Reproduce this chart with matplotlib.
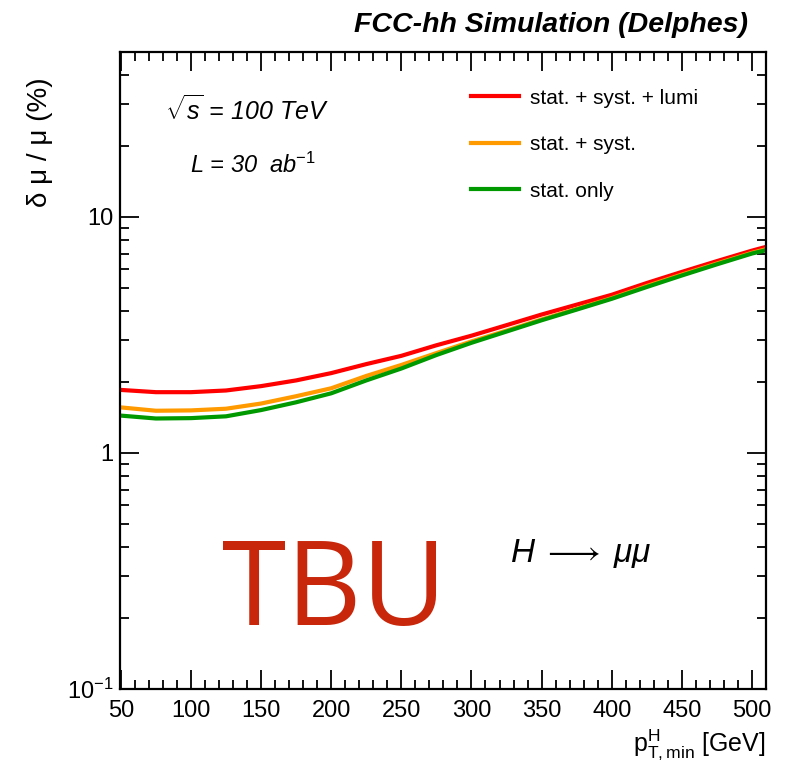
import matplotlib
matplotlib.use("Agg")
import matplotlib.pyplot as plt
from matplotlib.ticker import FixedLocator, MultipleLocator, LogLocator, NullFormatter, FuncFormatter

plt.rcParams['font.family'] = ['Liberation Sans', 'DejaVu Sans']
plt.rcParams['mathtext.fontset'] = 'custom'
plt.rcParams['mathtext.rm'] = 'Liberation Sans'
plt.rcParams['mathtext.it'] = 'Liberation Sans:italic'
plt.rcParams['mathtext.bf'] = 'Liberation Sans:bold'

# data
pt_min = [50, 75, 100, 125, 150, 175, 200, 225, 250, 275, 300, 325, 350, 375,
          400, 425, 450, 475, 500, 510]
err_full = [1.85, 1.81, 1.81, 1.84, 1.92, 2.03, 2.18, 2.38, 2.58, 2.86, 3.14, 3.48,
            3.86, 4.25, 4.68, 5.25, 5.85, 6.5, 7.2, 7.47]
err_syst = [1.56, 1.51, 1.515, 1.54, 1.62, 1.74, 1.88, 2.12, 2.36, 2.65, 2.97, 3.30,
            3.68, 4.08, 4.53, 5.1, 5.7, 6.35, 7.05, 7.3]
err_stat = [1.44, 1.40, 1.405, 1.43, 1.52, 1.64, 1.79, 2.03, 2.28, 2.6, 2.93, 3.27,
            3.65, 4.05, 4.5, 5.05, 5.65, 6.3, 7.0, 7.23]
labels = ["stat. + syst. + lumi", "stat. + syst.", "stat. only"]
colors = ["#FF0000", "#FF9A00", "#009A00"]
x_ticks = [50, 100, 150, 200, 250, 300, 350, 400, 450, 500]

W, H = 801, 767
fig = plt.figure(figsize=(W / 100, H / 100), dpi=100)
ax = fig.add_axes([120 / W, (H - 689) / H, (766 - 120) / W, (689 - 52) / H])

for y, c, lab in zip([err_full, err_syst, err_stat], colors, labels):
    ax.plot(pt_min, y, color=c, lw=3.0, label=lab, solid_joinstyle='round')

ax.set_yscale('log')
ax.set_xlim(49.4, 510)
ax.set_ylim(0.1, 50)

ax.xaxis.set_major_locator(FixedLocator(x_ticks))
ax.xaxis.set_minor_locator(MultipleLocator(10))
ax.yaxis.set_major_locator(LogLocator(base=10))
ax.yaxis.set_minor_locator(LogLocator(base=10, subs=range(2, 10)))
ax.yaxis.set_minor_formatter(NullFormatter())

def yfmt(v, pos):
    if abs(v - 0.1) < 1e-9:
        return r"$10^{-1}$"
    return "%g" % v
ax.yaxis.set_major_formatter(FuncFormatter(yfmt))

ax.tick_params(which='both', direction='in', top=True, right=True, width=1.3, labelsize=17)
ax.tick_params(which='major', length=14)
ax.tick_params(which='minor', length=6.5)
ax.tick_params(axis='x', which='major', pad=8)
ax.tick_params(axis='y', which='major', pad=5)
for s in ax.spines.values():
    s.set_linewidth(1.6)

# legend
leg = ax.legend(loc='upper left', bbox_to_anchor=(0.515, 0.972), frameon=False,
                fontsize=15, handlelength=2.3, labelspacing=1.32, handletextpad=0.5)

# texts
fig.text(748 / W, 1 - 25 / H, "FCC-hh Simulation (Delphes)", ha='right', va='center',
         fontsize=20.5, fontweight='bold', fontstyle='italic')
fig.text(40 / W, 1 - 142 / H, "δ μ / μ (%)", rotation=90, ha='center', va='center',
         fontsize=20)
fig.text(766 / W, 1 - 745 / H, r"$\mathrm{p}^{\mathrm{H}}_{\mathrm{T,min}}$ [GeV]",
         ha='right', va='center', fontsize=18)
fig.text(165 / W, 1 - 110 / H, r"$\sqrt{s}$ = 100 TeV", ha='left', va='center',
         fontsize=18, fontstyle='italic')
fig.text(190 / W, 1 - 165 / H, r"L = 30  ab$^{-1}$", ha='left', va='center',
         fontsize=17, fontstyle='italic')
fig.text(510 / W, 1 - 553 / H, r"$H\;\longrightarrow\;\mu\mu$", ha='left', va='center',
         fontsize=24)
fig.text(334 / W, 1 - 594 / H, "TBU", ha='center', va='center', fontsize=84,
         color='#C8270B', family='Open Sans')

fig.savefig("out.png", dpi=100)
